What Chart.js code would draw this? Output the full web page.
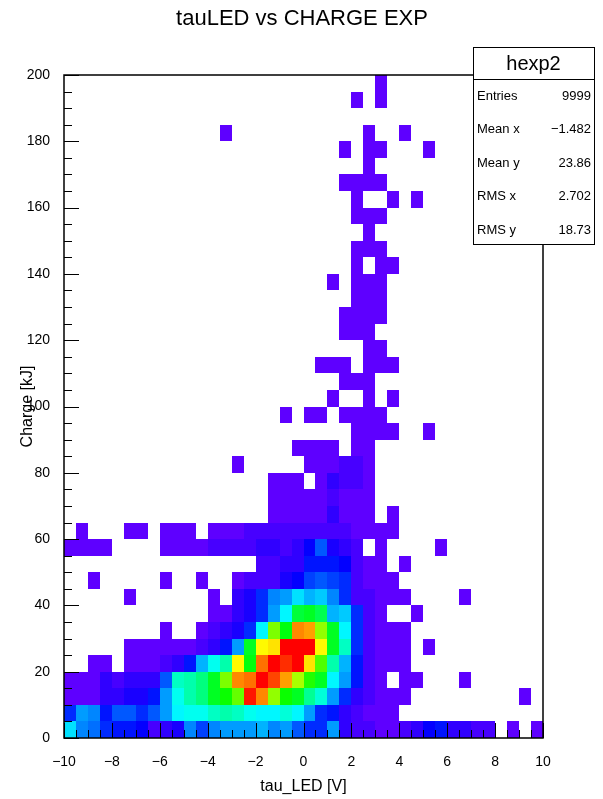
<!DOCTYPE html>
<html>
<head>
<meta charset="utf-8">
<title>tauLED vs CHARGE EXP</title>
<script src="https://cdn.jsdelivr.net/npm/chart.js@4.4.0/dist/chart.umd.min.js"></script>
<style>
  html, body { margin: 0; padding: 0; background: #fff; }
  #wrap { width: 603px; height: 799px; }
</style>
</head>
<body>
<div id="wrap"><canvas id="hist" width="603" height="799"></canvas></div>
<script>
const histTitle = 'tauLED vs CHARGE EXP';
const histName = 'hexp2';
const xTitle = 'tau_LED [V]';
const yTitle = 'Charge [kJ]';

// 40 x 40 bins
const xRange = [-10, 10];
const yRange = [0, 200];
const nBinsX = 40;
const nBinsY = 40;

const xTicks = [-10, -8, -6, -4, -2, 0, 2, 4, 6, 8, 10];
const yTicks = [0, 20, 40, 60, 80, 100, 120, 140, 160, 180, 200];

const statNames = ['Entries', 'Mean x', 'Mean y', 'RMS x', 'RMS y'];
const statValues = ['9999', '\u22121.482', '23.86', '2.702', '18.73'];

// bin contents, first row = top bin (195-200), last row = bottom bin (0-5)
const counts = [
  [0,0,0,0,0,0,0,0,0,0, 0,0,0,0,0,0,0,0,0,0, 0,0,0,0,0,0,2,0,0,0, 0,0,0,0,0,0,0,0,0,0],
  [0,0,0,0,0,0,0,0,0,0, 0,0,0,0,0,0,0,0,0,0, 0,0,0,0,1,0,2,0,0,0, 0,0,0,0,0,0,0,0,0,0],
  [0,0,0,0,0,0,0,0,0,0, 0,0,0,0,0,0,0,0,0,0, 0,0,0,0,0,0,0,0,0,0, 0,0,0,0,0,0,0,0,0,0],
  [0,0,0,0,0,0,0,0,0,0, 0,0,0,1,0,0,0,0,0,0, 0,0,0,0,0,1,0,0,1,0, 0,0,0,0,0,0,0,0,0,0],
  [0,0,0,0,0,0,0,0,0,0, 0,0,0,0,0,0,0,0,0,0, 0,0,0,1,0,2,1,0,0,0, 1,0,0,0,0,0,0,0,0,0],
  [0,0,0,0,0,0,0,0,0,0, 0,0,0,0,0,0,0,0,0,0, 0,0,0,0,0,2,0,0,0,0, 0,0,0,0,0,0,0,0,0,0],
  [0,0,0,0,0,0,0,0,0,0, 0,0,0,0,0,0,0,0,0,0, 0,0,0,1,2,2,1,0,0,0, 0,0,0,0,0,0,0,0,0,0],
  [0,0,0,0,0,0,0,0,0,0, 0,0,0,0,0,0,0,0,0,0, 0,0,0,0,1,0,0,1,0,1, 0,0,0,0,0,0,0,0,0,0],
  [0,0,0,0,0,0,0,0,0,0, 0,0,0,0,0,0,0,0,0,0, 0,0,0,0,2,2,1,0,0,0, 0,0,0,0,0,0,0,0,0,0],
  [0,0,0,0,0,0,0,0,0,0, 0,0,0,0,0,0,0,0,0,0, 0,0,0,0,0,2,0,0,0,0, 0,0,0,0,0,0,0,0,0,0],
  [0,0,0,0,0,0,0,0,0,0, 0,0,0,0,0,0,0,0,0,0, 0,0,0,0,1,2,2,0,0,0, 0,0,0,0,0,0,0,0,0,0],
  [0,0,0,0,0,0,0,0,0,0, 0,0,0,0,0,0,0,0,0,0, 0,0,0,0,2,0,2,1,0,0, 0,0,0,0,0,0,0,0,0,0],
  [0,0,0,0,0,0,0,0,0,0, 0,0,0,0,0,0,0,0,0,0, 0,0,1,0,2,3,2,0,0,0, 0,0,0,0,0,0,0,0,0,0],
  [0,0,0,0,0,0,0,0,0,0, 0,0,0,0,0,0,0,0,0,0, 0,0,0,0,2,3,2,0,0,0, 0,0,0,0,0,0,0,0,0,0],
  [0,0,0,0,0,0,0,0,0,0, 0,0,0,0,0,0,0,0,0,0, 0,0,0,1,3,3,2,0,0,0, 0,0,0,0,0,0,0,0,0,0],
  [0,0,0,0,0,0,0,0,0,0, 0,0,0,0,0,0,0,0,0,0, 0,0,0,2,3,3,0,0,0,0, 0,0,0,0,0,0,0,0,0,0],
  [0,0,0,0,0,0,0,0,0,0, 0,0,0,0,0,0,0,0,0,0, 0,0,0,0,0,3,2,0,0,0, 0,0,0,0,0,0,0,0,0,0],
  [0,0,0,0,0,0,0,0,0,0, 0,0,0,0,0,0,0,0,0,0, 0,1,1,1,0,3,2,1,0,0, 0,0,0,0,0,0,0,0,0,0],
  [0,0,0,0,0,0,0,0,0,0, 0,0,0,0,0,0,0,0,0,0, 0,0,0,2,3,3,0,0,0,0, 0,0,0,0,0,0,0,0,0,0],
  [0,0,0,0,0,0,0,0,0,0, 0,0,0,0,0,0,0,0,0,0, 0,0,1,0,0,3,0,1,0,0, 0,0,0,0,0,0,0,0,0,0],
  [0,0,0,0,0,0,0,0,0,0, 0,0,0,0,0,0,0,0,1,0, 1,1,0,2,3,3,2,0,0,0, 0,0,0,0,0,0,0,0,0,0],
  [0,0,0,0,0,0,0,0,0,0, 0,0,0,0,0,0,0,0,0,0, 0,0,0,0,3,3,2,1,0,0, 1,0,0,0,0,0,0,0,0,0],
  [0,0,0,0,0,0,0,0,0,0, 0,0,0,0,0,0,0,0,0,1, 2,2,2,0,3,3,0,0,0,0, 0,0,0,0,0,0,0,0,0,0],
  [0,0,0,0,0,0,0,0,0,0, 0,0,0,0,1,0,0,0,0,0, 2,3,3,4,4,3,0,0,0,0, 0,0,0,0,0,0,0,0,0,0],
  [0,0,0,0,0,0,0,0,0,0, 0,0,0,0,0,0,0,2,2,2, 0,3,9,4,4,3,0,0,0,0, 0,0,0,0,0,0,0,0,0,0],
  [0,0,0,0,0,0,0,0,0,0, 0,0,0,0,0,0,0,2,3,3, 3,3,4,3,3,2,0,0,0,0, 0,0,0,0,0,0,0,0,0,0],
  [0,0,0,0,0,0,0,0,0,0, 0,0,0,0,0,0,0,2,2,3, 3,3,9,3,3,2,0,1,0,0, 0,0,0,0,0,0,0,0,0,0],
  [0,2,0,0,0,2,2,0,2,2, 2,0,3,3,3,4,5,5,5,5, 6,5,4,4,3,3,2,1,0,0, 0,0,0,0,0,0,0,0,0,0],
  [2,2,2,2,0,0,0,0,2,3, 3,3,4,4,4,6,8,8,7,8, 16,30,12,10,4,0,2,0,0,0, 0,1,0,0,0,0,0,0,0,0],
  [0,0,0,0,0,0,0,0,0,0, 0,0,0,0,0,0,5,6,8,10, 22,20,22,18,6,3,2,0,1,0, 0,0,0,0,0,0,0,0,0,0],
  [0,0,1,0,0,0,0,0,1,0, 0,1,0,0,3,4,5,6,14,16, 28,30,27,24,5,3,2,2,0,0, 0,0,0,0,0,0,0,0,0,0],
  [0,0,0,0,0,1,0,0,0,0, 0,0,2,0,8,12,24,38,44,54, 45,52,38,23,5,4,2,2,1,0, 0,0,0,1,0,0,0,0,0,0],
  [0,0,0,0,0,0,0,0,0,0, 0,0,2,3,8,14,26,44,58,90, 94,88,46,52,23,5,2,0,0,1, 0,0,0,0,0,0,0,0,0,0],
  [0,0,0,0,0,0,0,0,1,0, 0,2,4,8,14,26,56,120,98,161, 158,124,94,58,24,5,3,2,2,0, 0,0,0,0,0,0,0,0,0,0],
  [0,0,0,0,0,2,2,2,2,3, 3,4,8,21,41,94,144,148,184,186, 185,142,96,68,26,5,3,2,2,0, 1,0,0,0,0,0,0,0,0,0],
  [0,0,2,2,0,2,2,3,6,9, 22,45,60,71,142,98,165,184,178,183, 146,112,71,45,22,5,3,2,2,0, 0,0,0,0,0,0,0,0,0,0],
  [3,3,2,8,4,8,9,10,30,68, 71,79,96,120,163,166,185,174,158,128, 105,96,56,41,22,4,2,0,2,1, 0,0,0,1,0,0,0,0,0,0],
  [3,3,2,9,10,12,14,22,41,60, 71,79,96,101,116,180,161,124,101,94, 75,64,41,24,9,4,2,2,2,0, 0,0,0,0,0,0,0,0,1,0],
  [26,41,39,22,32,30,24,32,44,56, 60,62,69,71,68,60,58,57,66,56, 41,26,22,11,5,3,2,2,0,0, 0,0,0,0,0,0,0,0,0,0],
  [54,38,36,26,22,21,15,5,11,14, 38,28,39,41,44,41,45,39,41,30, 26,24,41,11,5,4,3,3,4,8, 16,19,9,8,5,6,0,3,0,3]
];

const fontFamily = "'Liberation Sans', Arial, Helvetica, sans-serif";
Chart.defaults.font.family = fontFamily;
Chart.defaults.color = '#000';

const binW = (xRange[1] - xRange[0]) / nBinsX;
const binH = (yRange[1] - yRange[0]) / nBinsY;
const zMax = Math.max(...counts.flat());

// ROOT-like "pretty" palette: violet -> blue -> cyan -> green -> yellow -> red
const nColors = 50;
const hueMax = 262;
function binColor(v) {
  const idx = Math.min(nColors - 1, Math.floor(v / zMax * nColors));
  const hue = hueMax * (1 - idx / (nColors - 1));
  return 'hsl(' + hue.toFixed(1) + ', 100%, 50%)';
}

const cells = [];
counts.forEach((row, r) => {
  const j = nBinsY - 1 - r;
  row.forEach((v, i) => {
    if (v > 0) {
      cells.push({ x: xRange[0] + (i + 0.5) * binW, y: yRange[0] + (j + 0.5) * binH, v: v });
    }
  });
});

const minus = v => String(v).replace('-', '\u2212');

const binPlugin = {
  id: 'bins',
  beforeDatasetsDraw(chart) {
    const { ctx, scales: { x, y } } = chart;
    ctx.save();
    chart.data.datasets[0].data.forEach(c => {
      const l = Math.round(x.getPixelForValue(c.x - binW / 2));
      const r = Math.round(x.getPixelForValue(c.x + binW / 2));
      const t = Math.round(y.getPixelForValue(c.y + binH / 2));
      const b = Math.round(y.getPixelForValue(c.y - binH / 2));
      ctx.fillStyle = binColor(c.v);
      ctx.fillRect(l, t, r - l, b - t);
    });
    ctx.restore();
  }
};

const framePlugin = {
  id: 'frame',
  afterDatasetsDraw(chart) {
    const { ctx, chartArea: a, scales: { x, y } } = chart;
    ctx.save();
    ctx.strokeStyle = '#000';
    ctx.lineWidth = 1;
    ctx.beginPath();
    // x axis ticks, pointing inward
    for (let k = 0; k <= nBinsX; k++) {
      const v = xRange[0] + k * binW;
      const px = Math.round(x.getPixelForValue(v)) + 0.5;
      const len = (k % 4 === 0) ? 15 : 8;
      ctx.moveTo(px, a.bottom);
      ctx.lineTo(px, a.bottom - len);
    }
    // y axis ticks
    for (let k = 0; k <= nBinsY; k++) {
      const v = yRange[0] + k * binH;
      const py = Math.round(y.getPixelForValue(v)) + 0.5;
      const len = (k % 4 === 0) ? 15 : 8;
      ctx.moveTo(a.left, py);
      ctx.lineTo(a.left + len, py);
    }
    ctx.stroke();
    ctx.lineWidth = 1.5;
    ctx.strokeRect(a.left, a.top, a.right - a.left, a.bottom - a.top);
    ctx.restore();
  },
  afterDraw(chart) {
    const { ctx } = chart;
    ctx.save();
    // title
    ctx.fillStyle = '#000';
    ctx.font = '22px ' + fontFamily;
    ctx.textAlign = 'center';
    ctx.textBaseline = 'middle';
    ctx.fillText(histTitle, 302, 19);

    // stats box
    const bx = 473, by = 47, bw = 121, bh = 197;
    ctx.fillStyle = '#fff';
    ctx.fillRect(bx, by, bw, bh);
    ctx.strokeStyle = '#000';
    ctx.lineWidth = 1;
    ctx.strokeRect(bx + 0.5, by + 0.5, bw, bh);
    ctx.beginPath();
    ctx.moveTo(bx, by + 32.5);
    ctx.lineTo(bx + bw, by + 32.5);
    ctx.stroke();
    ctx.fillStyle = '#000';
    ctx.font = '20px ' + fontFamily;
    ctx.textAlign = 'center';
    ctx.fillText(histName, bx + bw / 2, by + 17);
    ctx.font = '13px ' + fontFamily;
    statNames.forEach((name, k) => {
      const ty = by + 49 + k * 33.5;
      ctx.textAlign = 'left';
      ctx.fillText(name, bx + 4, ty);
      ctx.textAlign = 'right';
      ctx.fillText(statValues[k], bx + bw - 3, ty);
    });
    ctx.restore();
  }
};

new Chart(document.getElementById('hist'), {
  type: 'scatter',
  data: {
    datasets: [{
      label: histName,
      data: cells,
      pointRadius: 0,
      pointHoverRadius: 0
    }]
  },
  options: {
    responsive: false,
    animation: false,
    devicePixelRatio: 1,
    events: [],
    layout: { padding: { left: 0, right: 60, top: 75, bottom: 0 } },
    plugins: {
      legend: { display: false },
      tooltip: { enabled: false },
      title: { display: false }
    },
    scales: {
      x: {
        type: 'linear',
        min: xRange[0],
        max: xRange[1],
        afterBuildTicks: s => { s.ticks = xTicks.map(v => ({ value: v })); },
        afterFit: s => { s.height = 61; },
        ticks: {
          callback: v => minus(v),
          font: { size: 14 },
          padding: 16,
          maxRotation: 0,
          autoSkip: false
        },
        grid: { display: false, drawTicks: false },
        border: { display: false },
        title: {
          display: true,
          text: xTitle,
          font: { size: 16 },
          padding: { top: 0, bottom: 3 }
        }
      },
      y: {
        type: 'linear',
        min: yRange[0],
        max: yRange[1],
        afterBuildTicks: s => { s.ticks = yTicks.map(v => ({ value: v })); },
        afterFit: s => { s.width = 64; },
        ticks: {
          callback: v => minus(v),
          font: { size: 14 },
          padding: 14,
          autoSkip: false
        },
        grid: { display: false, drawTicks: false },
        border: { display: false },
        title: {
          display: true,
          text: yTitle,
          font: { size: 16 },
          padding: { top: 18, bottom: 0 }
        }
      }
    }
  },
  plugins: [binPlugin, framePlugin]
});
</script>
</body>
</html>
